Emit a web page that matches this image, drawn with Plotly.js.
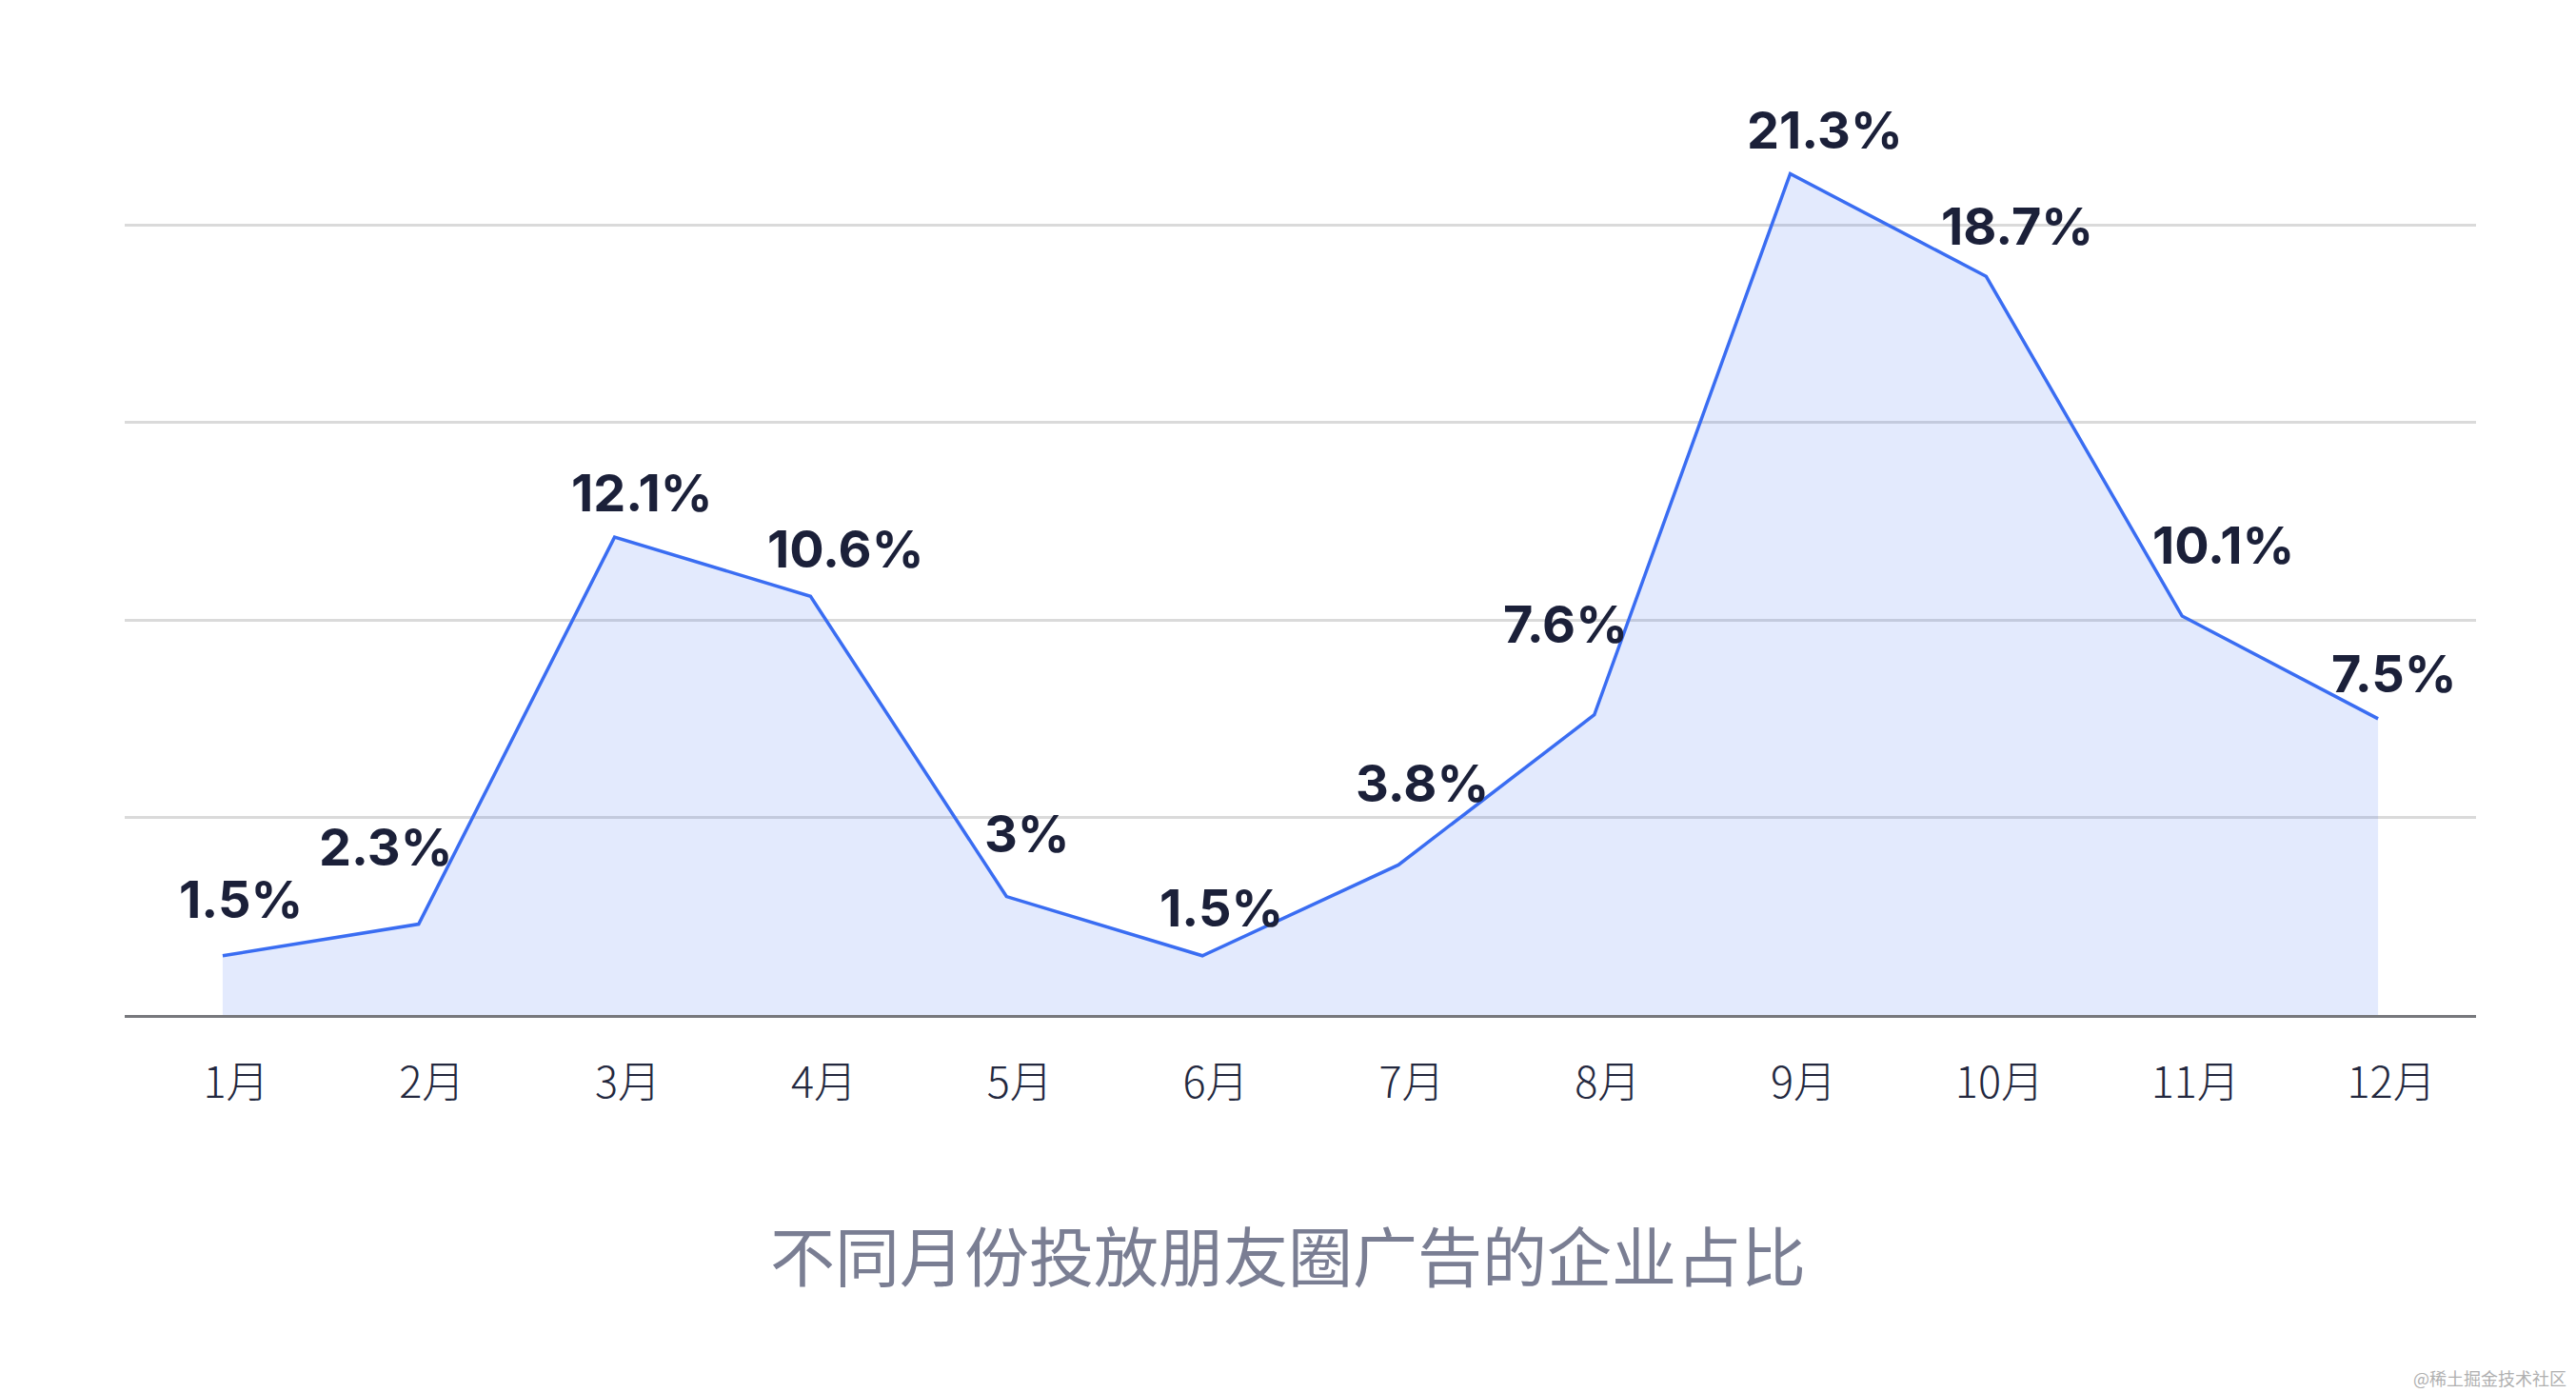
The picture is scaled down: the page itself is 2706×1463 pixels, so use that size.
<!DOCTYPE html>
<html>
<head>
<meta charset="utf-8">
<script src="https://cdn.plot.ly/plotly-3.0.1.min.js"></script>
<style>
  html, body { margin: 0; padding: 0; background: #ffffff; }
  #chart { width: 2706px; height: 1463px; }
</style>
</head>
<body>
<div id="chart"></div>
<script>
// ---- data ----
const months = ['1月','2月','3月','4月','5月','6月','7月','8月','9月','10月','11月','12月'];
const shares = [1.5, 2.3, 12.1, 10.6, 3, 1.5, 3.8, 7.6, 21.3, 18.7, 10.1, 7.5];
const chartTitle = '不同月份投放朋友圈广告的企业占比';
const watermark = '@稀土掘金技术社区';

// ---- label placement (pixel offsets from each point, style only) ----
const labelDX = [19, -34, 29, 37, 22, 20, 25, -30, 36, 33, 43, 17];
const labelDY = [60, 82, 48, 51, 67, 51, 87, 96, 47, 54, 76, 48];

const trace = {
  type: 'scatter',
  mode: 'lines',
  x: months,
  y: shares,
  line: { color: '#3a6df2', width: 3.5 },
  fill: 'tozeroy',
  fillcolor: 'rgba(64,112,244,0.15)',
  hoverinfo: 'skip'
};

const annotations = months.map((m, i) => ({
  x: m, y: shares[i], xref: 'x', yref: 'y',
  text: shares[i] + '%',
  showarrow: false,
  xanchor: 'center', yanchor: 'middle',
  xshift: labelDX[i], yshift: labelDY[i] - 1,
  font: { family: 'Inter, Lato, sans-serif', size: 54, weight: 700, color: '#1b2039' }
}));

annotations.push({
  text: watermark, showarrow: false,
  xref: 'paper', yref: 'paper',
  x: (2698 - 131) / 2470, y: (1066 - 1447) / 1037,
  xanchor: 'right', yanchor: 'middle',
  font: { family: 'Noto Sans CJK SC, sans-serif', size: 18, color: '#b0b0b0' }
});

const layout = {
  width: 2706, height: 1463,
  margin: { l: 131, r: 105, t: 29, b: 397 },
  paper_bgcolor: '#ffffff', plot_bgcolor: '#ffffff',
  showlegend: false,
  title: {
    text: chartTitle,
    xref: 'container', x: 0.5, xanchor: 'center',
    yref: 'container', y: 1 - 1322 / 1463, yanchor: 'middle',
    font: { family: 'Noto Sans CJK SC, sans-serif', size: 68, weight: 400, color: '#7a7e93' }
  },
  xaxis: {
    type: 'category',
    range: [-0.5, 11.5],
    showgrid: false, zeroline: false,
    showline: true, linecolor: '#77787c', linewidth: 3,
    ticks: '',
    ticklabelstandoff: 30,
    ticklabelshift: 14,
    tickfont: { family: 'Noto Sans CJK SC, sans-serif', size: 45, weight: 300, color: '#23283e' },
    fixedrange: true
  },
  yaxis: {
    range: [0, 25],
    tickvals: [0, 5, 10, 15, 20],
    showticklabels: false,
    showgrid: true, gridcolor: '#dadada', gridwidth: 3,
    zeroline: false, showline: false, ticks: '',
    fixedrange: true
  },
  annotations: annotations
};

Plotly.newPlot('chart', [trace], layout, { displayModeBar: false, staticPlot: true });
</script>
</body>
</html>
